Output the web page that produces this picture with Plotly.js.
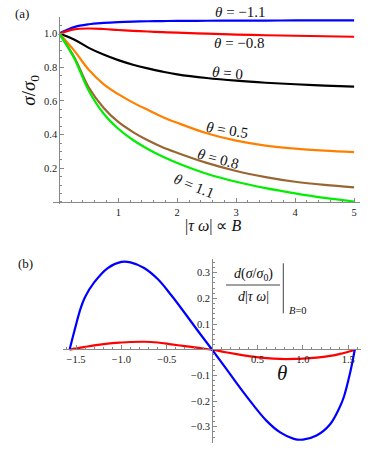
<!DOCTYPE html>
<html>
<head>
<meta charset="utf-8">
<script src="https://cdn.plot.ly/plotly-3.0.1.min.js"></script>
<style>
  html, body { margin: 0; padding: 0; background: #fff; }
  #plot { width: 374px; height: 451px; }
</style>
</head>
<body>
<div id="plot"></div>
<script>
// panel (a): sigma/sigma0 against |tau omega|
const tauOmega = [0, 0.25, 0.5, 0.75, 1, 1.25, 1.5, 1.75, 2, 2.5, 3, 3.5, 4, 4.5, 5];
const sigmaM11 = [1.0, 1.038, 1.055, 1.063, 1.068, 1.071, 1.073, 1.074, 1.075, 1.076, 1.077, 1.077, 1.078, 1.078, 1.078];
const sigmaM08 = [1.0, 1.025, 1.03, 1.027, 1.021, 1.016, 1.012, 1.008, 1.005, 0.999, 0.994, 0.99, 0.987, 0.984, 0.981];
const sigma0 = [1.0, 0.965, 0.915, 0.875, 0.842, 0.815, 0.793, 0.774, 0.758, 0.736, 0.72, 0.708, 0.699, 0.691, 0.685];
const sigma05 = [1.0, 0.9, 0.785, 0.7, 0.64, 0.59, 0.547, 0.505, 0.47, 0.408, 0.364, 0.335, 0.317, 0.305, 0.296];
const sigma08 = [1.0, 0.862, 0.68, 0.56, 0.475, 0.415, 0.366, 0.325, 0.292, 0.232, 0.184, 0.148, 0.12, 0.101, 0.087];
const sigma11 = [1.0, 0.855, 0.66, 0.525, 0.435, 0.368, 0.315, 0.27, 0.232, 0.168, 0.12, 0.082, 0.051, 0.024, 0.003];

// panel (b): slope at B = 0 against theta
const theta = [-1.571, -1.52, -1.45, -1.4, -1.3, -1.15, -1.0, -0.9, -0.75, -0.6, -0.45, -0.3, -0.15, 0,
  0.15, 0.3, 0.45, 0.6, 0.75, 0.9, 1.0, 1.15, 1.3, 1.4, 1.45, 1.52, 1.571];
const slopeBlue = [0, 0.07, 0.16, 0.205, 0.262, 0.318, 0.342, 0.34, 0.318, 0.275, 0.212, 0.142, 0.07, 0,
  -0.072, -0.145, -0.214, -0.277, -0.322, -0.347, -0.35, -0.334, -0.29, -0.228, -0.185, -0.09, 0];
const slopeRed = [0, 0.004, 0.008, 0.011, 0.017, 0.024, 0.028, 0.03, 0.031, 0.028, 0.021, 0.014, 0.007, 0,
  -0.01, -0.019, -0.027, -0.033, -0.036, -0.036, -0.035, -0.031, -0.024, -0.017, -0.013, -0.006, 0];

const serif = '"Liberation Serif", "Times New Roman", serif';
const W = 374, H = 451;
const px = x => x / W;
const py = y => 1 - y / H;

function curve(x, y, color, xa, ya) {
  return {
    x: x, y: y, xaxis: xa, yaxis: ya,
    mode: 'lines', type: 'scatter',
    line: { color: color, width: 2.2, shape: 'spline', smoothing: 1 },
    hoverinfo: 'skip'
  };
}

const traces = [
  curve(tauOmega, sigmaM11, '#0000ff', 'x', 'y'),
  curve(tauOmega, sigmaM08, '#ff0000', 'x', 'y'),
  curve(tauOmega, sigma0, '#000000', 'x', 'y'),
  curve(tauOmega, sigma05, '#ff8000', 'x', 'y'),
  curve(tauOmega, sigma08, '#996633', 'x', 'y'),
  curve(tauOmega, sigma11, '#00ee00', 'x', 'y'),
  curve(theta, slopeRed, '#ff0000', 'x2', 'y2'),
  curve(theta, slopeBlue, '#0000ff', 'x2', 'y2')
];

const axisStyle = {
  showgrid: false, zeroline: false, showline: true,
  linecolor: '#888', linewidth: 1,
  ticks: 'inside', ticklen: 4, tickcolor: '#888', tickwidth: 1,
  tickfont: { family: serif, size: 10.5, color: '#222' },
  fixedrange: true
};

function label(text, x, y, size, angle) {
  return {
    text: text, xref: 'paper', yref: 'paper', x: px(x), y: py(y),
    xanchor: 'center', yanchor: 'middle', showarrow: false,
    textangle: angle || 0,
    font: { family: serif, size: size, color: '#111' }
  };
}

const layout = {
  width: W, height: H,
  margin: { l: 0, r: 0, t: 0, b: 0 },
  paper_bgcolor: '#fff', plot_bgcolor: 'rgba(0,0,0,0)',
  font: { family: serif },
  showlegend: false,
  xaxis: Object.assign({}, axisStyle, {
    domain: [px(53.4), px(360)], range: [-0.1, 5.1],
    anchor: 'free', position: py(202),
    tickvals: [1, 2, 3, 4, 5], ticktext: ['1', '2', '3', '4', '5'],
    minor: { dtick: 0.2, tick0: 0, ticks: 'inside', ticklen: 2, tickcolor: '#888' }
  }),
  yaxis: Object.assign({}, axisStyle, {
    domain: [py(204), py(16.7)], range: [-0.012, 1.1],
    anchor: 'free', position: px(59.3),
    tickvals: [0.2, 0.4, 0.6, 0.8, 1.0], ticktext: ['0.2', '0.4', '0.6', '0.8', '1.0'],
    minor: { dtick: 0.05, tick0: 0, ticks: 'inside', ticklen: 2, tickcolor: '#888' }
  }),
  xaxis2: Object.assign({}, axisStyle, {
    domain: [px(63.3), px(361)], range: [-1.64, 1.64],
    anchor: 'free', position: py(349),
    tickvals: [-1.5, -1, -0.5, 0.5, 1, 1.5],
    ticktext: ['\u22121.5', '\u22121.0', '\u22120.5', '0.5', '1.0', '1.5'],
    minor: { dtick: 0.1, tick0: 0, ticks: 'inside', ticklen: 2, tickcolor: '#888' }
  }),
  yaxis2: Object.assign({}, axisStyle, {
    domain: [py(442.7), py(259.3)], range: [-0.362, 0.352],
    anchor: 'free', position: px(212.2),
    tickvals: [-0.3, -0.2, -0.1, 0.1, 0.2, 0.3],
    ticktext: ['\u22120.3', '\u22120.2', '\u22120.1', '0.1', '0.2', '0.3'],
    minor: { dtick: 0.02, tick0: 0, ticks: 'inside', ticklen: 2, tickcolor: '#888' }
  }),
  annotations: [
    label('(a)', 21.7, 13.3, 13),
    label('(b)', 25, 263.3, 13),
    label('<i>σ</i>/<i>σ</i><sub>0</sub>', 30, 90.7, 19, -90),
    label('|<i>τ ω</i>| ∝ <i>B</i>', 213.3, 225.5, 16),
    label('<i>θ</i> = \u22121.1', 240, 12.3, 15),
    label('<i>θ</i> = \u22120.8', 239, 43.3, 15),
    label('<i>θ</i> = 0', 227.7, 73.3, 15, 5),
    label('<i>θ</i> = 0.5', 226.7, 130, 15, 9),
    label('<i>θ</i> = 0.8', 218.3, 159.3, 15, 15),
    label('<i>θ</i> = 1.1', 194, 186, 15, 22),
    label('<i>θ</i>', 281.7, 373.3, 21),
    label('<i>d</i>(<i>σ</i>/<i>σ</i><sub>0</sub>)', 253.3, 274.5, 14),
    label('<i>d</i>|<i>τ ω</i>|', 253.3, 296, 14),
    label('<i>B</i>=0', 298.3, 310, 10.5)
  ],
  shapes: [
    { type: 'line', xref: 'paper', yref: 'paper', x0: px(226), x1: px(280), y0: py(285), y1: py(285),
      line: { color: '#111', width: 0.8 } },
    { type: 'line', xref: 'paper', yref: 'paper', x0: px(283.3), x1: px(283.3), y0: py(263.3), y1: py(313.3),
      line: { color: '#111', width: 0.8 } }
  ]
};

Plotly.newPlot('plot', traces, layout, { staticPlot: true, displayModeBar: false });
</script>
</body>
</html>
